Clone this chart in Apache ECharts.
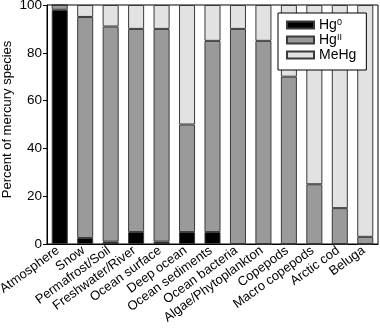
<!DOCTYPE html>
<html>
<head>
<meta charset="utf-8">
<script src="https://cdn.jsdelivr.net/npm/echarts@6/dist/echarts.min.js"></script>
<style>
  html, body { margin: 0; padding: 0; background: #fff; }
  #chart { width: 380px; height: 332px; }
</style>
</head>
<body>
<div id="chart"></div>
<script>
// categories along x
const categories = ["Atmosphere", "Snow", "Permafrost/Soil", "Freshwater/River", "Ocean surface",
    "Deep ocean", "Ocean sediments", "Ocean bacteria", "Algae/Phytoplankton", "Copepods",
    "Macro copepods", "Arctic cod", "Beluga"];
// percent of each species
const hg0 = [98, 2.5, 1, 5, 1, 5, 5, 0, 0, 0, 0, 0, 0];
const hgII = [2, 92.5, 90, 85, 89, 45, 80, 90, 85, 70, 25, 15, 3];
const meHg = [0, 5, 9, 10, 10, 50, 15, 10, 15, 30, 75, 85, 97];
const yTicks = [0, 20, 40, 60, 80, 100];

const font = "Liberation Sans, Arial, Helvetica, sans-serif";
const legendNames = {"Hg0": "{t|Hg}{sup|0}", "HgII": "{t|Hg}{sup|II}", "MeHg": "{t|MeHg}"};

function bar(name, data, color) {
    return {
        name: name,
        type: "bar",
        stack: "total",
        barWidth: "63%",
        data: data,
        itemStyle: {color: color, borderColor: "#3a3a3a", borderWidth: 1},
        emphasis: {disabled: true}
    };
}

let chart = echarts.init(document.getElementById("chart"));
chart.setOption({
    animation: false,
    grid: {
        left: 47, right: 2, top: 5, bottom: 88,
        outerBoundsMode: "none",
        containLabel: false,
        show: true, borderColor: "#000", borderWidth: 1
    },
    legend: {
        orient: "vertical",
        left: 278, top: 13,
        padding: [5, 10, 8, 8],
        itemGap: 1,
        itemWidth: 27, itemHeight: 7,
        borderColor: "#000", borderWidth: 1,
        backgroundColor: "#fff",
        icon: "rect",
        formatter: n => legendNames[n],
        textStyle: {
            fontFamily: font, fontSize: 14, color: "#000", lineHeight: 14,
            rich: {
                t: {fontFamily: font, fontSize: 14, color: "#000", lineHeight: 14},
                sup: {fontFamily: font, fontSize: 9, color: "#000", lineHeight: 9, verticalAlign: "top"}
            }
        }
    },
    xAxis: {
        type: "category",
        data: categories,
        axisLine: {lineStyle: {color: "#000"}},
        axisTick: {alignWithLabel: true, length: 4, lineStyle: {color: "#000"}},
        axisLabel: {
            rotate: 36, interval: 0, margin: 4, hideOverlap: false,
            // push rotated text a bit further below the axis
            padding: [15, 2, 0, 0],
            fontFamily: font, fontSize: 13, color: "#000"
        }
    },
    yAxis: {
        type: "value",
        min: 0, max: 100, interval: 20,
        name: "Percent of mercury species",
        nameLocation: "middle",
        nameGap: 33,
        nameMoveOverlap: false,
        nameTextStyle: {fontFamily: font, fontSize: 13, color: "#000", padding: [0, 0, 0, 10]},
        axisLine: {show: true, lineStyle: {color: "#000"}},
        axisTick: {show: true, length: 4, lineStyle: {color: "#000"}},
        splitLine: {show: false},
        axisLabel: {
            margin: 5, fontFamily: font, fontSize: 13.5, color: "#000",
            formatter: v => yTicks.includes(v) ? String(v) : ""
        }
    },
    series: [
        bar("Hg0", hg0, "#000000"),
        bar("HgII", hgII, "#9a9a9a"),
        bar("MeHg", meHg, "#e2e2e2")
    ]
});
</script>
</body>
</html>
